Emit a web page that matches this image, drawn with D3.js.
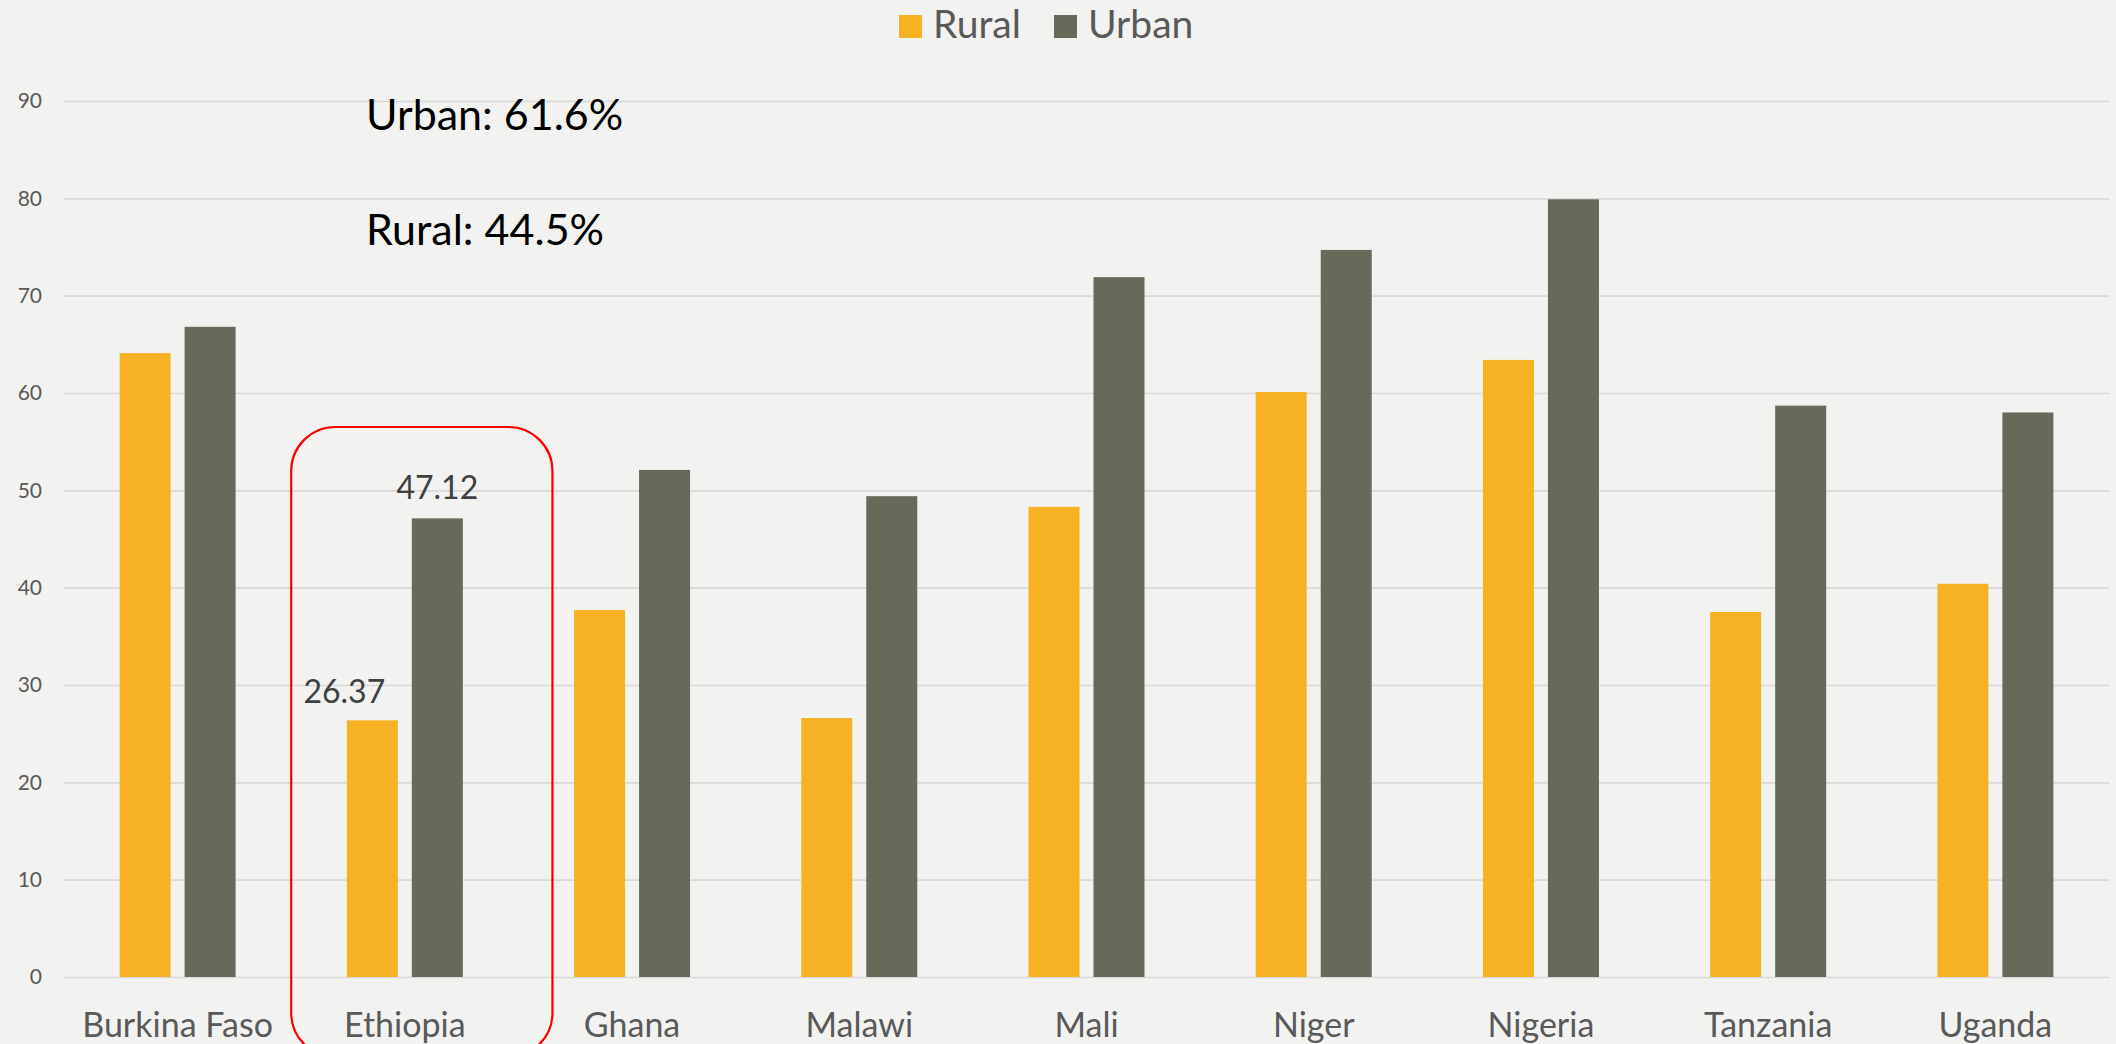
<!DOCTYPE html>
<html>
<head>
<meta charset="utf-8">
<script src="https://cdn.jsdelivr.net/npm/d3@7"></script>
<style>
  html, body { margin: 0; padding: 0; background: #f2f2f0; }
  svg { display: block; }
  text { font-family: Lato, "Open Sans", sans-serif; }
</style>
</head>
<body>
<svg id="chart" width="2116" height="1044"></svg>
<script>
// Share of households (%) by country, rural vs urban
const countries = ["Burkina Faso", "Ethiopia", "Ghana", "Malawi", "Mali", "Niger", "Nigeria", "Tanzania", "Uganda"];
const seriesNames = ["Rural", "Urban"];
const ruralValues = [64.1, 26.37, 37.7, 26.6, 48.3, 60.1, 63.4, 37.5, 40.4];
const urbanValues = [66.8, 47.12, 52.1, 49.4, 71.9, 74.7, 79.9, 58.7, 58.0];
const yTicks = [0, 10, 20, 30, 40, 50, 60, 70, 80, 90];
const seriesColors = ["#f6b224", "#666a58"];
const highlighted = "Ethiopia";
const summaryLines = ["Urban: 61.6%", "Rural: 44.5%"];

const svg = d3.select("#chart");
const W = 2116, H = 1044;
const plot = { left: 64, right: 2109, top: 101, bottom: 977 };

svg.append("rect").attr("width", W).attr("height", H).attr("fill", "#f2f2f0");

const x0 = d3.scaleBand().domain(countries).range([plot.left, plot.right]).padding(0);
const groupWidth = 116;
const x1 = d3.scaleBand().domain(seriesNames).range([0, groupWidth]).paddingInner(0.2154).paddingOuter(0);
const y = d3.scaleLinear().domain([0, 90]).range([plot.bottom, plot.top]);
const color = d3.scaleOrdinal().domain(seriesNames).range(seriesColors);

// Horizontal gridlines and y tick labels
const yAxis = d3.axisLeft(y).tickValues(yTicks).tickSize(-(plot.right - plot.left)).tickPadding(22).tickFormat(d3.format("d"));
const yg = svg.append("g").attr("transform", `translate(${plot.left},0)`).call(yAxis);
yg.select(".domain").remove();
yg.selectAll(".tick line").attr("stroke", "#d9d9d9").attr("stroke-width", 1.6);
yg.selectAll(".tick text").attr("fill", "#595959").attr("font-size", 21).attr("font-family", "Lato, sans-serif");

// Bars
const rows = countries.map((c, i) => ({ country: c, values: [
  { series: "Rural", value: ruralValues[i] },
  { series: "Urban", value: urbanValues[i] }
]}));

const groups = svg.append("g").selectAll("g").data(rows).join("g")
  .attr("transform", d => `translate(${x0(d.country) + (x0.bandwidth() - groupWidth) / 2},0)`);

groups.selectAll("rect").data(d => d.values).join("rect")
  .attr("x", d => x1(d.series))
  .attr("width", x1.bandwidth())
  .attr("y", d => y(d.value))
  .attr("height", d => y(0) - y(d.value))
  .attr("fill", d => color(d.series));

// Category axis labels
const xAxis = d3.axisBottom(x0).tickSize(0).tickPadding(0);
const xg = svg.append("g").attr("transform", `translate(0,${plot.bottom})`).call(xAxis);
xg.select(".domain").remove();
xg.selectAll(".tick text").attr("fill", "#595959").attr("font-size", 34)
  .attr("font-family", "Lato, sans-serif").attr("dy", 0).attr("y", 60);

// Highlight frame around one country
const hx = x0(highlighted);
svg.append("rect")
  .attr("x", hx).attr("y", 427)
  .attr("width", x0.bandwidth() + 34).attr("height", 630)
  .attr("rx", 44).attr("ry", 44)
  .attr("fill", "none").attr("stroke", "#ff0000").attr("stroke-width", 2.2);

// Value labels for the highlighted country
const hi = countries.indexOf(highlighted);
const hGroupX = x0(highlighted) + (x0.bandwidth() - groupWidth) / 2;
const labelData = [
  { series: "Rural", value: ruralValues[hi], dx: -28, gap: 17 },
  { series: "Urban", value: urbanValues[hi], dx: 0, gap: 19 }
];
svg.append("g").selectAll("text").data(labelData).join("text")
  .attr("x", d => hGroupX + x1(d.series) + x1.bandwidth() / 2 + d.dx)
  .attr("y", d => y(d.value) - d.gap)
  .attr("text-anchor", "middle")
  .attr("fill", "#404040")
  .attr("font-size", 32)
  .text(d => d.value.toFixed(2));

// Summary text
svg.append("g").selectAll("text").data(summaryLines).join("text")
  .attr("x", 366)
  .attr("y", (d, i) => 130 + i * 115)
  .attr("fill", "#000000")
  .attr("font-size", 43)
  .text(d => d);

// Legend
const legendItems = [
  { name: "Rural", sx: 899 },
  { name: "Urban", sx: 1054 }
];
const lg = svg.append("g").selectAll("g").data(legendItems).join("g");
lg.append("rect").attr("x", d => d.sx).attr("y", 15).attr("width", 23).attr("height", 23)
  .attr("fill", d => color(d.name));
lg.append("text").attr("x", d => d.sx + 34).attr("y", 38)
  .attr("fill", "#595959").attr("font-size", 39).text(d => d.name);
</script>
</body>
</html>
